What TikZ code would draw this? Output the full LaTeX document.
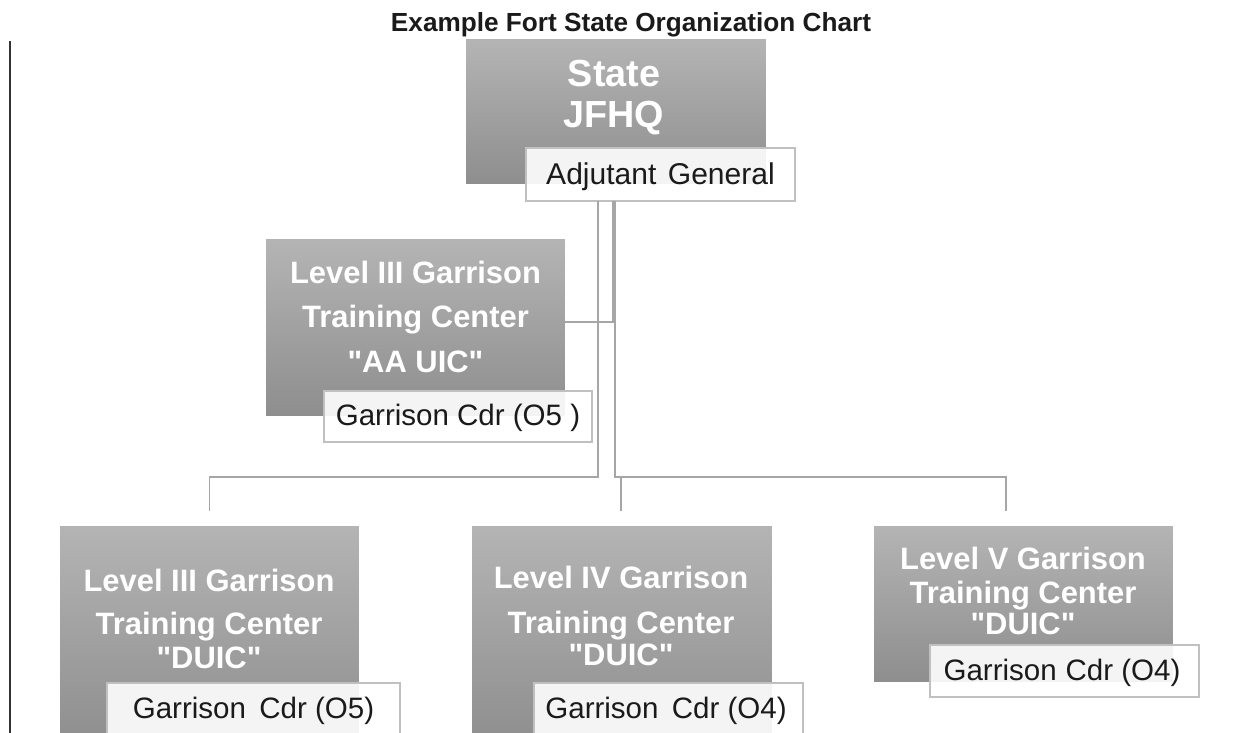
\documentclass[tikz,border=0pt]{standalone}
\usepackage{fontspec}
\setmainfont{Liberation Sans}[Ligatures=TeXOff]
\usetikzlibrary{calc}
\definecolor{conncol}{HTML}{A6A6A6}
\definecolor{gtop}{HTML}{B4B4B4}
\definecolor{gbot}{HTML}{8E8E8E}
\definecolor{boxline}{HTML}{C0C0C0}
\definecolor{inkcol}{HTML}{1A1A1A}
\definecolor{rulecol}{HTML}{333333}
\newcommand{\fsz}[1]{\fontsize{#1}{#1}\selectfont}
\begin{document}
\begin{tikzpicture}[x=0.02cm,y=-0.02cm,
  unitbox/.style={rectangle, anchor=north west, inner sep=0, outer sep=0, top color=gtop, bottom color=gbot, draw=none},
  cdrbox/.style={rectangle, anchor=north west, inner sep=0, outer sep=0, draw=boxline, line width=0.85pt, fill=white, fill opacity=0.9},
  conn/.style={draw=conncol, line width=0.85pt},
  ttl/.style={anchor=base, inner sep=0, font=\bfseries\fsz{14.9}, text=inkcol},
  bigt/.style={anchor=base, inner sep=0, font=\bfseries\fsz{21.5}, text=white},
  unitt/.style={anchor=base, inner sep=0, font=\bfseries\fsz{17.6}, text=white},
  cdrt/.style={anchor=base, inner sep=0, font=\fsz{16.8}, text=inkcol},
]
\useasboundingbox (0,0) rectangle (1247,733);
\clip (0,0) rectangle (1247,733);

% title
\node[ttl] (title) at (631,32) {Example Fort State Organization Chart};

% left rule
\coordinate (ruleTop) at (10,41);
\coordinate (ruleBot) at (10,740);
\draw[rulecol, line width=1.4pt] (ruleTop) -- (ruleBot);

% State JFHQ
\node[unitbox, minimum width=6cm, minimum height=2.88cm] (jfhq) at (466,40) {};
\node[bigt] (jfhqA) at (614,87) {State};
\node[bigt] (jfhqB) at (614,128) {JFHQ};
\node[cdrbox, minimum width=5.38cm, minimum height=1.06cm] (adj) at (526,148) {};
\node[cdrt, font=\fsz{17.1}] (adjT) at (660.5,185) {Adjutant\hspace{0.38em}General};

% AA UIC
\node[unitbox, minimum width=5.98cm, minimum height=3.52cm] (aa) at (266,240) {};
\node[unitt] (aaA) at (415.5,283) {Level III Garrison};
\node[unitt] (aaB) at (415.5,327) {Training Center};
\node[unitt] (aaC) at (415.5,372) {"AA UIC"};
\node[cdrbox, minimum width=5.36cm, minimum height=1.02cm] (aaG) at (324,391) {};
\node[cdrt] (aaGT) at (458,425) {Garrison Cdr (O5 )};

% Level III DUIC
\node[unitbox, minimum width=5.98cm, minimum height=4.4cm] (lthree) at (60,526) {};
\node[unitt] (lthreeA) at (209,591) {Level III Garrison};
\node[unitt] (lthreeB) at (209,634) {Training Center};
\node[unitt] (lthreeC) at (209,668) {"DUIC"};
\node[cdrbox, minimum width=5.86cm, minimum height=1.4cm] (lthreeG) at (107,683) {};
\node[cdrt] (lthreeGT) at (253.5,718) {Garrison\hspace{0.45em}Cdr (O5)};

% Level IV DUIC
\node[unitbox, minimum width=6cm, minimum height=4.4cm] (lfour) at (472,526) {};
\node[unitt] (lfourA) at (621,588) {Level IV Garrison};
\node[unitt] (lfourB) at (621,633) {Training Center};
\node[unitt] (lfourC) at (621,665) {"DUIC"};
\node[cdrbox, minimum width=5.38cm, minimum height=1.4cm] (lfourG) at (534,683) {};
\node[cdrt] (lfourGT) at (666,718) {Garrison\hspace{0.45em}Cdr (O4)};

% Level V DUIC
\node[unitbox, minimum width=5.98cm, minimum height=3.12cm] (lfive) at (874,526) {};
\node[unitt] (lfiveA) at (1023,569) {Level V Garrison};
\node[unitt] (lfiveB) at (1023,603) {Training Center};
\node[unitt] (lfiveC) at (1023,634) {"DUIC"};
\node[cdrbox, minimum width=5.38cm, minimum height=1.04cm] (lfiveG) at (930,645) {};
\node[cdrt] (lfiveGT) at (1062,680) {Garrison\hspace{0.3em}Cdr (O4)};

% connectors
\draw[conn] ($(adj.south west)+(72,0)$) |- ($(lthree.north)+(0,-49)$) -- ($(lthree.north)+(0,-15)$);
\draw[conn] ($(adj.south west)+(87,0)$) |- ($(aa.east)+(0,-6)$);
\draw[conn] ($(adj.south west)+(89,0)$) |- ($(lfive.north)+(-17.5,-49)$) -- ($(lfive.north)+(-17.5,-15)$);
\draw[conn] ($(lfour.north)+(-1,-49)$) -- ($(lfour.north)+(-1,-15)$);
\end{tikzpicture}
\end{document}
